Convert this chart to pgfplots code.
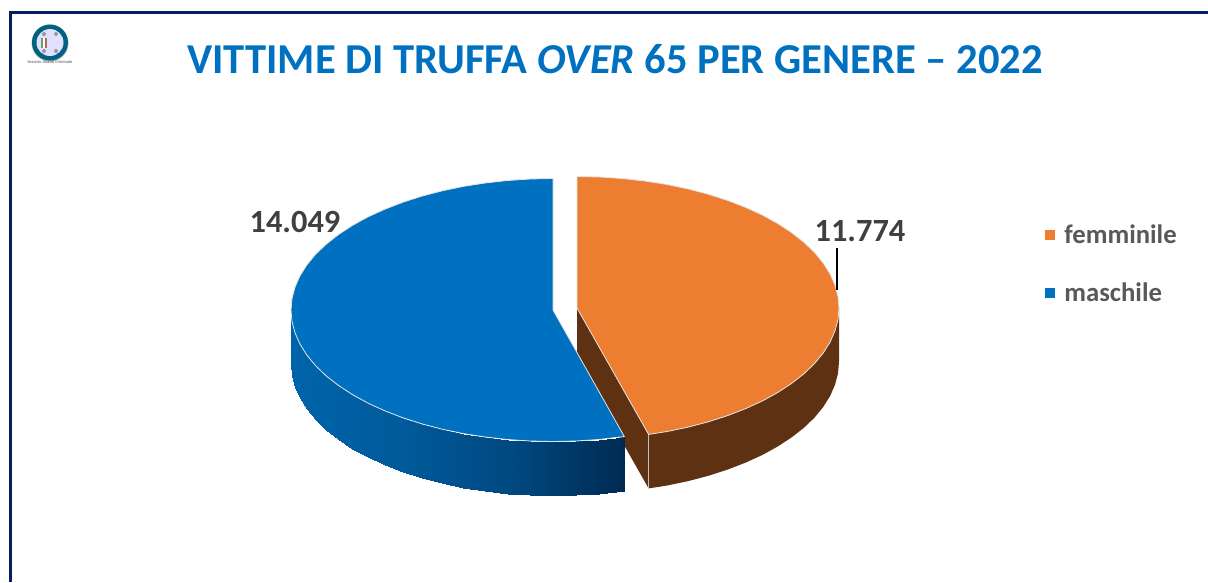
\documentclass[border=0pt]{standalone}
\usepackage{fontspec}
\setmainfont{Carlito}
\usepackage{pgfplots}
\pgfplotsset{compat=1.18}
\definecolor{titleblue}{HTML}{0070C0}
\definecolor{pieorange}{HTML}{ED7D31}
\definecolor{piebrown}{HTML}{5E3113}
\definecolor{frameblue}{HTML}{002060}
\begin{document}
\begin{tikzpicture}
\begin{axis}[
    scale only axis,
    width=1208pt, height=582pt,
    xmin=0, xmax=1208, ymin=0, ymax=582,
    y dir=reverse,
    hide axis,
    colormap={wall}{rgb255=(0,100,170) rgb255=(0,90,155) rgb255=(0,72,128) rgb255=(0,42,82)},
    legend cell align=left,
    legend style={draw=none, fill=none, at={(0.8651,0.6135)}, anchor=north west,
        inner sep=0pt, outer sep=0pt, row sep=38pt,
        font=\fontsize{26.7}{29}\selectfont\bfseries\color[HTML]{595959},
        nodes={inner sep=0pt, outer sep=0pt}},
    legend image code/.code={\path[#1,draw=none] (0pt,-5pt) rectangle (10pt,5pt);\path (19pt,0pt);},
]
\path (axis cs:0,0) rectangle (axis cs:1208,582);

% orange slice: outer wall
\addplot[fill=piebrown, draw=none, forget plot] coordinates {
 (839,308) (838,319.5) (835,330.8) (830.1,342) (823.2,353) (814.5,363.6) (803.9,373.8)
 (791.6,383.4) (777.7,392.5) (762.3,401) (745.4,408.7) (727.3,415.7) (708,421.9)
 (687.7,427.2) (666.6,431.6) (648.6,434.4)
 (648.6,488.4) (666.6,485.6) (687.7,481.2) (708,475.9) (727.3,469.7) (745.4,462.7)
 (762.3,455) (777.7,446.5) (791.6,437.4) (803.9,427.8) (814.5,417.6) (823.2,407)
 (830.1,396) (835,384.8) (838,373.5) (839,362)
} -- cycle;
% orange slice: cut wall
\addplot[fill=piebrown, draw=none, forget plot] coordinates {
 (577,308) (648.6,434.4) (648.6,488.4) (577,362)
} -- cycle;
\addplot[draw=white!75!black, line width=0.8pt, forget plot] coordinates {(648.6,434.4) (648.6,488.4)};
% orange slice: top
\addplot[fill=pieorange, draw=white!90!black, line width=0.8pt] coordinates {
 (577,308) (577,176.5) (599.8,177) (622.5,178.5) (644.8,181) (666.6,184.4) (687.7,188.8)
 (708,194.1) (727.3,200.3) (745.4,207.3) (762.3,215) (777.7,223.5) (791.6,232.6)
 (803.9,242.3) (814.5,252.4) (823.2,263) (830.1,274) (835,285.2) (838,296.5) (839,308)
 (838,319.5) (835,330.8) (830.1,342) (823.2,353) (814.5,363.6) (803.9,373.8) (791.6,383.4)
 (777.7,392.5) (762.3,401) (745.4,408.7) (727.3,415.7) (708,421.9) (687.7,427.2)
 (666.6,431.6) (648.6,434.4)
} -- cycle;
\addlegendentry{femminile}

% blue slice: outer wall, shaded along x
\addplot[surf, shader=interp, mesh/cols=2, point meta=x, forget plot] coordinates {
 (291,310) (291,364)
 (292,321.5) (292,375.5)
 (295,332.8) (295,386.8)
 (299.9,344) (299.9,398)
 (306.8,355) (306.8,409)
 (315.5,365.6) (315.5,419.6)
 (326.1,375.8) (326.1,429.8)
 (338.4,385.4) (338.4,439.4)
 (352.3,394.5) (352.3,448.5)
 (367.7,403) (367.7,457)
 (384.6,410.7) (384.6,464.7)
 (402.7,417.7) (402.7,471.7)
 (422,423.9) (422,477.9)
 (442.3,429.2) (442.3,483.2)
 (463.4,433.6) (463.4,487.6)
 (485.2,437) (485.2,491)
 (507.5,439.5) (507.5,493.5)
 (530.2,441) (530.2,495)
 (553,441.5) (553,495.5)
 (575.8,441) (575.8,495)
 (598.5,439.5) (598.5,493.5)
 (624.3,436.5) (624.3,490.5)
};
% blue slice: top
\addplot[fill=titleblue, draw=white!90!black, line width=0.8pt] coordinates {
 (553,310) (553,178.5) (530.2,179) (507.5,180.5) (485.2,183) (463.4,186.4) (442.3,190.8)
 (422,196.1) (402.7,202.3) (384.6,209.3) (367.7,217) (352.3,225.5) (338.4,234.6)
 (326.1,244.3) (315.5,254.4) (306.8,265) (299.9,276) (295,287.2) (292,298.5) (291,310)
 (292,321.5) (295,332.8) (299.9,344) (306.8,355) (315.5,365.6) (326.1,375.8) (338.4,385.4)
 (352.3,394.5) (367.7,403) (384.6,410.7) (402.7,417.7) (422,423.9) (442.3,429.2)
 (463.4,433.6) (485.2,437) (507.5,439.5) (530.2,441) (553,441.5) (575.8,441) (598.5,439.5)
 (624.3,436.5)
} -- cycle;
\addlegendentry{maschile}

% frame
\draw[frameblue, line width=2.6pt] (axis cs:10.3,582) -- (axis cs:10.3,12.2) -- (axis cs:1208,12.2);

% title and data labels
\node[text=titleblue, font=\fontsize{42.6}{46}\selectfont\bfseries] at (axis cs:615,59)
    {VITTIME DI TRUFFA \textit{OVER} 65 PER GENERE – 2022};
\node[text=black!75, font=\fontsize{32.4}{35}\selectfont\bfseries] at (axis cs:295,222) {14.049};
\node[text=black!75, font=\fontsize{32.4}{35}\selectfont\bfseries] at (axis cs:860,231) {11.774};
\draw[black, line width=1.6pt] (axis cs:837,248) -- (axis cs:837,290);

% logo
\fill[black!30] (axis cs:50,43) circle[radius=18.5pt];
\fill[frameblue!60!cyan!80!black] (axis cs:50,42.5) circle[radius=18pt];
\fill[blue!12!white] (axis cs:50,42.5) circle[radius=13.5pt];
\fill[green!40!black!60] (axis cs:40.5,37.5) rectangle (axis cs:42.5,48);
\fill[white] (axis cs:42.5,37.5) rectangle (axis cs:44.5,48);
\fill[red!50!black!60] (axis cs:44.5,37.5) rectangle (axis cs:46.5,48);
\fill[black!40] (axis cs:44,34) circle[radius=2pt];
\fill[black!40] (axis cs:56,34) circle[radius=2pt];
\fill[black!40] (axis cs:44,51) circle[radius=2pt];
\fill[black!40] (axis cs:56,51) circle[radius=2pt];
\node[text=black!70, font=\fontsize{4.4}{5}\selectfont] at (axis cs:50,61.5) {Servizio Analisi Criminale};
\end{axis}
\end{tikzpicture}
\end{document}
